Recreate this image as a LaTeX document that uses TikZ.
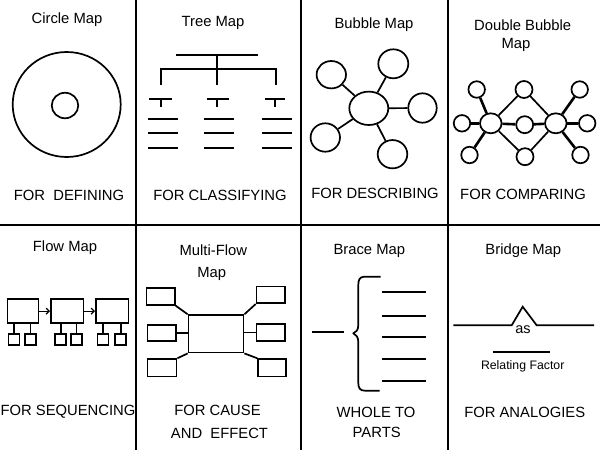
\documentclass[tikz,border=0pt]{standalone}
\usepackage{fontspec}
\setmainfont{Liberation Sans}
\usetikzlibrary{shapes.geometric,arrows.meta}
\begin{document}
\begin{tikzpicture}[x=1pt,y=-1pt,
  lbl/.style={anchor=base,inner sep=0pt,font=\fontsize{14.8}{16}\selectfont},
  small/.style={anchor=base,inner sep=0pt,font=\fontsize{12.3}{14}\selectfont},
  grid/.style={line width=2pt},
  shp/.style={line width=1.7pt},
  bub/.style={draw,line width=1.7pt,ellipse,inner sep=0pt},
  bx/.style={draw,line width=1.7pt,rectangle,inner sep=0pt,anchor=north west},
  con/.style={line width=1.7pt},
  thick con/.style={line width=2.6pt}]
\useasboundingbox (0,0) rectangle (600,450);
\fill[white] (0,0) rectangle (600,450);
% grid
\draw[grid] (136,0) -- (136,450);
\draw[grid] (300.5,0) -- (300.5,450);
\draw[grid] (447.5,0) -- (447.5,450);
\draw[grid] (0,225) -- (600,225);

% ===== Circle Map
\node[lbl] (t1) at (67,23.5) {Circle Map};
\node[bub,minimum width=108,minimum height=105] (co) at (66.7,104.5) {};
\node[bub,minimum width=26.5,minimum height=25.5] (ci) at (65,105.5) {};
\node[lbl] (f1) at (69,200) {FOR\ \ DEFINING};

% ===== Tree Map
\node[lbl] (t2) at (213,26.5) {Tree Map};
\begin{scope}[shp]
\draw (176,55) -- (258,55);
\draw (216.7,55) -- (216.7,85);
\draw (161,85) -- (161,69.3) -- (276,69.3) -- (276,85);
\foreach \a/\b/\s in {149/171.7/161, 206.7/228.7/216.7, 265/285/275}{
  \draw (\a,99.3) -- (\b,99.3);
  \draw (\s,99.3) -- (\s,107.3);
}
\foreach \a/\b in {148.3/178.3, 204/234, 261.7/291.7}{
  \draw (\a,119.3) -- (\b,119.3);
  \draw (\a,133.3) -- (\b,133.3);
  \draw (\a,147.7) -- (\b,147.7);
}
\end{scope}
\node[lbl] (f2) at (220,200) {FOR CLASSIFYING};

% ===== Bubble Map
\node[lbl] (t3) at (374,28.3) {Bubble Map};
\node[bub,minimum width=39,minimum height=33.4] (bc) at (368.8,108.3) {};
\node[bub,minimum width=29.4,minimum height=27.4] (b1) at (331.3,74.7) {};
\node[bub,minimum width=30,minimum height=29] (b2) at (393.3,63.8) {};
\node[bub,minimum width=28.4,minimum height=29.4] (b3) at (422.5,108) {};
\node[bub,minimum width=29.4,minimum height=28.4] (b4) at (325.3,137.5) {};
\node[bub,minimum width=29.6,minimum height=28.3] (b5) at (392.5,154.2) {};
\foreach \b in {b1,b2,b3,b4,b5}{\draw[con] (bc) -- (\b);}
\node[lbl] (f3) at (375,198.3) {FOR DESCRIBING};

% ===== Double Bubble Map
\node[lbl] (t4a) at (522.7,30) {Double Bubble};
\node[lbl] (t4b) at (516,48.3) {Map};
\node[bub,minimum width=21.6,minimum height=20] (dl) at (490.8,123.3) {};
\node[bub,minimum width=21.6,minimum height=20] (dr) at (555.8,123.3) {};
\node[bub,minimum size=17] (dtm) at (524,89.5) {};
\node[bub,minimum size=17] (dmm) at (524.7,124.7) {};
\node[bub,minimum size=17] (dbm) at (525,156.7) {};
\node[bub,minimum size=16.5] (dtl) at (476.7,89.5) {};
\node[bub,minimum size=16.5] (dml) at (462,123.3) {};
\node[bub,minimum size=16.5] (dbl) at (469.5,155) {};
\node[bub,minimum size=16.5] (dtr) at (579.7,89.5) {};
\node[bub,minimum size=16.5] (dmr) at (587.2,123.3) {};
\node[bub,minimum size=16.5] (dbr) at (580.5,155) {};
\draw[thick con] (dl) -- (dtl);
\draw[thick con] (dl) -- (dml);
\draw[thick con] (dl) -- (dbl);
\draw[thick con] (dr) -- (dtr);
\draw[thick con] (dr) -- (dmr);
\draw[thick con] (dr) -- (dbr);
\draw[thick con] (dl) -- (dmm);
\draw[thick con] (dr) -- (dmm);
\draw[con] (dl) -- (dtm);
\draw[con] (dr) -- (dtm);
\draw[con] (dl) -- (dbm);
\draw[con] (dr) -- (dbm);
\node[lbl] (f4) at (523,199) {FOR COMPARING};

% ===== Flow Map
\node[lbl] (t5) at (65,251.7) {Flow Map};
\node[bx,minimum width=31,minimum height=24] (fa) at (6.7,298.3) {};
\node[bx,minimum width=32.7,minimum height=24] (fb) at (50,298.3) {};
\node[bx,minimum width=32.7,minimum height=24] (fc) at (95,298.3) {};
\draw[line width=1.2pt,-{Straight Barb[length=3pt,width=6pt]}] (fa.east) -- (fb.west);
\draw[line width=1.2pt,-{Straight Barb[length=3pt,width=6pt]}] (fb.east) -- (fc.west);
\foreach \n/\x in {sa1/7.7, sa2/24, sb1/54.3, sb2/70, sc1/96.7, sc2/114.3}{
  \node[bx,minimum width=11,minimum height=11] (\n) at (\x,333.3) {};
}
\foreach \s/\p in {sa1/fa, sa2/fa, sb1/fb, sb2/fb, sc1/fc, sc2/fc}{
  \draw[con] (\s.north) -- (\s.north |- \p.south);
}
\node[lbl] (f5) at (68,415.7) {FOR SEQUENCING};

% ===== Multi-Flow Map
\node[lbl] (t6a) at (213.3,255.7) {Multi-Flow};
\node[lbl] (t6b) at (211.7,277.7) {Map};
\node[bx,minimum width=55,minimum height=37.4] (mc) at (187.7,314.3) {};
\node[bx,minimum width=28.3,minimum height=16.7] (ml1) at (145.7,287.3) {};
\node[bx,minimum width=28.3,minimum height=16] (ml2) at (146.7,324) {};
\node[bx,minimum width=29,minimum height=17.4] (ml3) at (146.7,358.3) {};
\node[bx,minimum width=28.3,minimum height=16.6] (mr1) at (255.7,285.7) {};
\node[bx,minimum width=28.3,minimum height=16.7] (mr2) at (255.7,323.3) {};
\node[bx,minimum width=27.7,minimum height=17.4] (mr3) at (257.3,358.3) {};
\draw[con] (ml1.south east) -- (mc.north west);
\draw[con] (ml2.east) -- (ml2.east -| mc.west);
\draw[con] (ml3.north east) -- (mc.south west);
\draw[con] (mr1.south west) -- (mc.north east);
\draw[con] (mr2.west) -- (mr2.west -| mc.east);
\draw[con] (mr3.north west) -- (mc.south east);
\node[lbl] (f6a) at (217.5,415.7) {FOR CAUSE};
\node[lbl] (f6b) at (219.5,438.3) {AND\ \ EFFECT};

% ===== Brace Map
\node[lbl] (t7) at (369.3,254.3) {Brace Map};
\draw[shp] (312.3,332.3) -- (344.3,332.3);
\draw[shp,line join=round] (380.5,276.7) -- (364,276.7)
  .. controls (359.5,277) and (358.3,280) .. (358.3,285) -- (358.3,325)
  .. controls (358.3,330) and (356,332.5) .. (353.3,333.3)
  .. controls (356,334.5) and (358.3,337) .. (358.3,342) -- (358.3,383)
  .. controls (358.3,388) and (360,390.7) .. (365,390.7) -- (379.5,390.7);
\foreach \y in {291.7,315.7,337.3,359.3,380.7}{
  \draw[shp] (381.7,\y) -- (426,\y);
}
\node[lbl] (f7a) at (376,417.7) {WHOLE TO};
\node[lbl] (f7b) at (376.7,437.3) {PARTS};

% ===== Bridge Map
\node[lbl] (t8) at (523.3,254.3) {Bridge Map};
\draw[shp,line join=miter] (453.3,325.3) -- (511.7,325.3) -- (522.7,306.7) -- (536.7,325.3) -- (594,325.3);
\node[anchor=base,inner sep=0pt,font=\fontsize{14.5}{16}\selectfont] (as) at (523,333.3) {as};
\draw[shp] (493.3,351.7) -- (550,351.7);
\node[small] (rf) at (522.7,369) {Relating Factor};
\node[lbl] (f8) at (524.7,417.7) {FOR ANALOGIES};
\end{tikzpicture}
\end{document}
